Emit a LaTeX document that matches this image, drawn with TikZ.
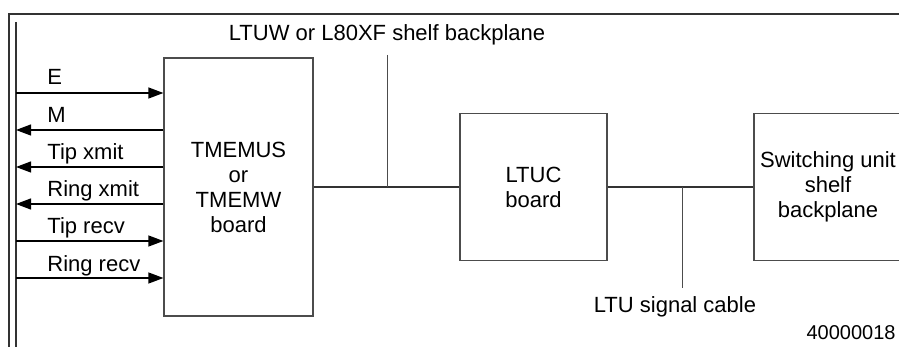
\documentclass[tikz,border=0pt]{standalone}
\usepackage{fontspec}
\setmainfont{Liberation Sans}
\usetikzlibrary{arrows.meta, positioning}

\begin{document}
\begin{tikzpicture}[x=0.5pt, y=-0.5pt, every node/.style={align=center, inner sep=0pt, font=\fontsize{11}{12.5}\selectfont},
    board/.style={draw=black!70, line width=0.6pt, text=black},
    sig/.style={-{Triangle[length=7.5pt,width=5.5pt]}, line width=0.6pt},
    bus/.style={line width=1pt, black!80},
    tap/.style={line width=0.5pt, black!70}]
    \useasboundingbox (0,0) rectangle (899,347);
    \clip (0,0) rectangle (899,347);
    \draw[black!80, line width=0.6pt] (9,347) -- (9,14) -- (905,14);
    \draw[black!80, line width=0.6pt] (16,22) -- (16,347);
    \node[board, minimum width=74.5pt, minimum height=129pt] (tm) at (238.5,187) {TMEMUS\\or\\TMEMW\\board};
    \node[board, minimum width=73.5pt, minimum height=73.5pt] (ltuc) at (533.5,187) {LTUC\\board};
    \node[board, minimum width=74pt, minimum height=73.5pt] (su) at (828,187) {Switching unit\\shelf\\backplane};
    \coordinate (e) at (16,93);
    \coordinate (m) at (16,130);
    \coordinate (tx) at (16,167);
    \coordinate (rx) at (16,204);
    \coordinate (tr) at (16,241);
    \coordinate (rr) at (16,278);
    \draw[sig] (e) -- (e -| tm.west);
    \draw[sig] (m -| tm.west) -- (m);
    \draw[sig] (tx -| tm.west) -- (tx);
    \draw[sig] (rx -| tm.west) -- (rx);
    \draw[sig] (tr) -- (tr -| tm.west);
    \draw[sig] (rr) -- (rr -| tm.west);
    \node[anchor=base west] at (47,85) {E};
    \node[anchor=base west] at (47,123) {M};
    \node[anchor=base west] at (47,160) {Tip xmit};
    \node[anchor=base west] at (47,197) {Ring xmit};
    \node[anchor=base west] at (47,234) {Tip recv};
    \node[anchor=base west] at (47,271) {Ring recv};
    \draw[bus] (tm.east) -- (ltuc.west);
    \draw[bus] (ltuc.east) -- (su.west);
    \coordinate (bp) at (387,187);
    \coordinate (bptop) at (387,55);
    \node[above=5pt of bptop] (bplabel) {LTUW or L80XF shelf backplane};
    \draw[tap] (bptop) -- (bp);
    \coordinate (cab) at (682,187);
    \coordinate (cabbot) at (682,288);
    \node (cablabel) at (675,307) {LTU signal cable};
    \draw[tap] (cab) -- (cabbot);
    \node[anchor=east, font=\fontsize{10}{12}\selectfont] (fig) at (896,333) {40000018};
\end{tikzpicture}
\end{document}
